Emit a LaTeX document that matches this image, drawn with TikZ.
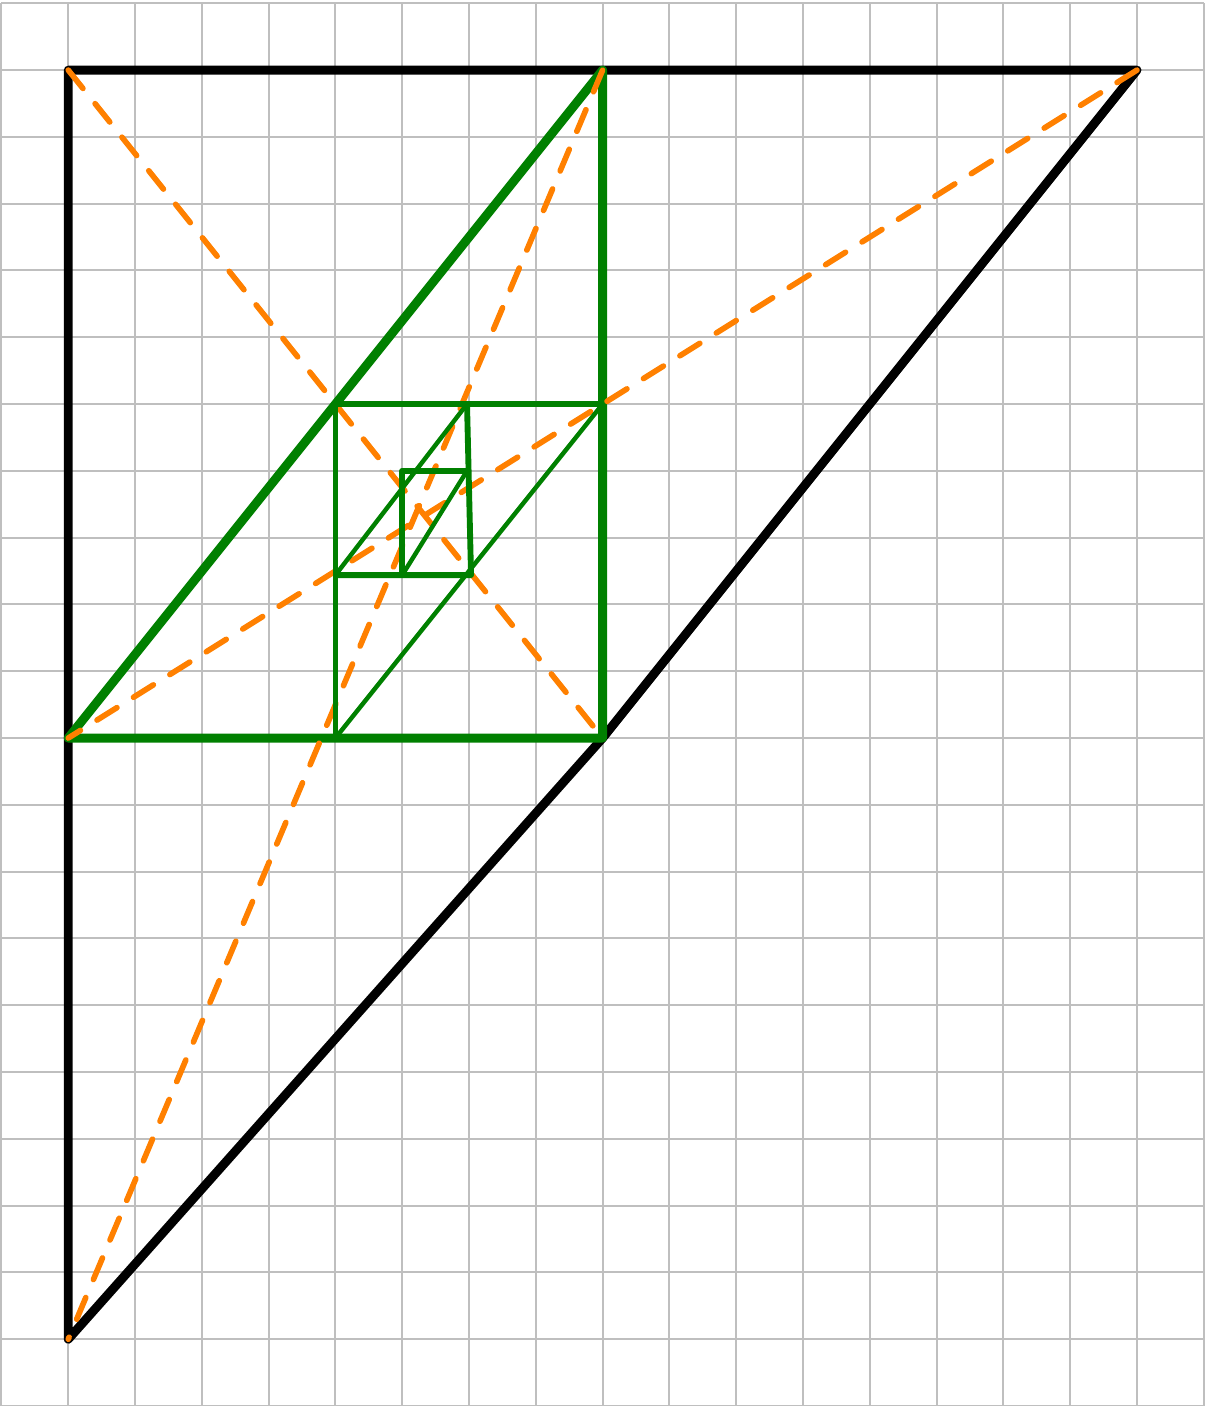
\documentclass[tikz,border=0pt]{standalone}
\usepackage{tikz}
\definecolor{leafgreen}{RGB}{0,128,0}
\definecolor{medorange}{RGB}{255,128,0}

\begin{document}
\begin{tikzpicture}[line join=round,gridline/.style={black!25,line width=0.85pt},outline/.style={line width=3.8pt,line cap=round},bigtri/.style={leafgreen,line width=3.8pt},midtri/.style={leafgreen,line width=2.5pt},thintri/.style={leafgreen,line width=1.9pt},median/.style={medorange,line width=2.4pt,line cap=round,dash pattern=on 10pt off 8.3pt}]
\useasboundingbox (-0.022,0) rectangle (18.018,21.05);
\draw[gridline] (0,0) grid (18,21);
% corner points
\coordinate (A) at (1,20); \coordinate (B) at (17,20); \coordinate (C) at (1,1); \coordinate (D) at (9,10);
\coordinate (P) at (1,10); \coordinate (Q) at (9,20);
\coordinate (R) at (5,15); \coordinate (S) at (9,15); \coordinate (T) at (5,10);
\coordinate (U) at (5,12.44); \coordinate (V) at (6.97,15); \coordinate (W) at (7.03,12.44);
\coordinate (X) at (6,14); \coordinate (Y) at (6.97,14); \coordinate (Z) at (6,12.44);
\draw[outline] (B) -- (A) -- (C) -- (D) -- (B);
\draw[bigtri] (P) -- (Q) -- (D) -- cycle;
\foreach \p/\q in {A/D,Q/C,B/P} {\draw[median] (\p) -- (\q);}
\draw[midtri] (S) -- (R) -- (T); \draw[thintri] (T) -- (S);
\draw[thintri] (U) -- (V); \draw[midtri] (V) -- (W) -- (U);
\draw[midtri] (Y) -- (X) -- (Z); \draw[thintri] (Z) -- (Y);
\end{tikzpicture}
\end{document}
